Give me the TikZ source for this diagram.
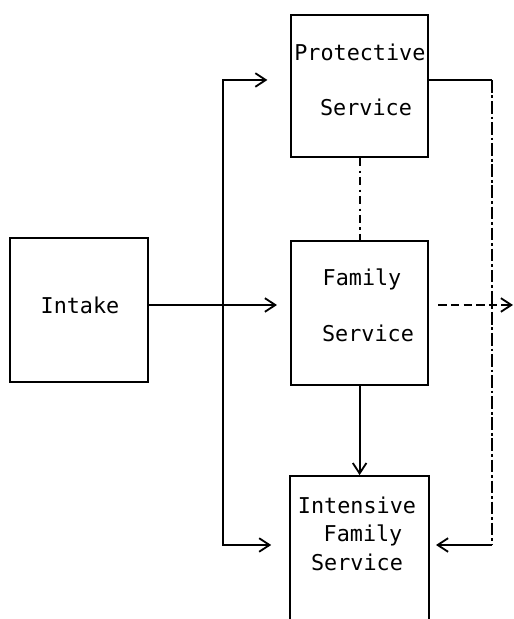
\documentclass[tikz,border=0pt]{standalone}
\usepackage{fontspec}
\setmonofont{DejaVu Sans Mono}
\usepackage{tikz}
\usetikzlibrary{arrows.meta,positioning}
\tikzset{
  ln/.style={line width=1.3pt,black},
  ar/.style={-{Straight Barb[length=2.6mm,width=3.4mm]},line width=1.3pt,black},
  box/.style={draw,line width=1.3pt,inner sep=0pt},
  lbl/.style={font=\ttfamily\fontsize{15.5}{18}\selectfont,inner sep=0pt}
}
\begin{document}
\begin{tikzpicture}
\clip (0,0) rectangle (12.85,15.475);
% boxes
\node[box,minimum width=3.45cm,minimum height=3.6cm] (intake) at (1.975,7.725) {};
\node[box,minimum width=3.425cm,minimum height=3.55cm] (prot) at (8.99,13.325) {};
\node[box,minimum width=3.425cm,minimum height=3.6cm] (fam) at (8.99,7.65) {};
\node[box,minimum width=3.475cm,minimum height=3.75cm] (ifs) at (8.99,1.7) {};
% texts
\node[lbl] (intake-t) at (2.0,7.85) {Intake};
\node[lbl,anchor=west] (prot-t1) at (7.35,14.175) {Protective};
\node[lbl] (prot-t2) at (9.15,12.8) {Service};
\node[lbl] (fam-t1) at (9.05,8.5) {Family};
\node[lbl] (fam-t2) at (9.2,7.15) {Service};
\node[lbl] (ifs-t1) at (8.925,2.85) {Intensive};
\node[lbl] (ifs-t2) at (9.075,2.1) {Family};
\node[lbl] (ifs-t3) at (8.925,1.425) {Service};
% bus corners
\coordinate (lt) at (5.575,13.475);
\coordinate (lm) at (5.575,7.85);
\coordinate (lb) at (5.575,1.85);
\coordinate (rt) at (12.3,13.475);
\coordinate (rb) at (12.3,1.85);
\coordinate (fend) at (12.825,7.85);
% left side
\draw[ln] (intake.east |- lm) -- (lm);
\draw[ar,shorten >=3.3mm] (lm) -- (fam.west |- lm);
\draw[ar,{Straight Barb[length=2.6mm,width=3.4mm]}-{Straight Barb[length=2.6mm,width=3.4mm]},
  shorten <=5.7mm,shorten >=4.5mm]
  (prot.west |- lt) -- (lt) -- (lb) -- (ifs.west |- lb);
% middle column
\draw[ln,dash pattern=on 6pt off 3pt on 1.5pt off 3pt] (prot.south) -- (fam.north);
\draw[ar] (fam.south) -- (ifs.north);
% right side
\draw[ln] (prot.east |- rt) -- (rt);
\draw[ln,dash pattern=on 9pt off 2pt on 2pt off 2pt] (rt) -- (rb);
\draw[ar,shorten >=1.5mm] (rb) -- (ifs.east |- rb);
\draw[ar,dash pattern=on 6pt off 3pt,shorten <=2.3mm] (fam.east |- lm) -- (fend);
\end{tikzpicture}
\end{document}
